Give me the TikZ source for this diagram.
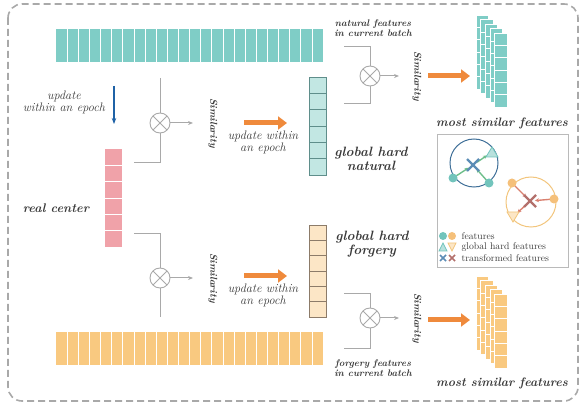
\documentclass[tikz,border=0pt]{standalone}
\usepackage{tikz}
\usetikzlibrary{calc}
\usetikzlibrary{positioning}
\usetikzlibrary{arrows.meta}

\definecolor{tealbar}{HTML}{7FCDC6}
\definecolor{tealcol}{HTML}{C2E7E3}
\definecolor{tealedge}{HTML}{5F8E8B}
\definecolor{orangebar}{HTML}{F9C980}
\definecolor{orangecol}{HTML}{FCE6C6}
\definecolor{orangeedge}{HTML}{8C7B69}
\definecolor{pinkcol}{HTML}{F0A2A9}
\definecolor{bigor}{HTML}{EF8A3C}
\definecolor{epochblue}{HTML}{1F62A6}
\definecolor{linegray}{HTML}{A9A9A9}
\definecolor{ink}{HTML}{3A3A3A}
\definecolor{ringblue}{HTML}{3F6F98}
\definecolor{dotteal}{HTML}{72C4BC}
\definecolor{xblue}{HTML}{5C8DB6}
\definecolor{arrgreen}{HTML}{6DBE8A}
\definecolor{ringor}{HTML}{F2C57C}
\definecolor{dotor}{HTML}{F5C07A}
\definecolor{xred}{HTML}{B3706C}
\definecolor{arrred}{HTML}{D98070}

\begin{document}
\begin{tikzpicture}[x=1pt, y=-1pt, text=ink,
    colbox/.style={rectangle, inner sep=0, outer sep=0},
    link/.style={draw=linegray, line width=1pt},
    simarrow/.style={draw=linegray, line width=1pt, -{Stealth[length=5pt,width=4pt]}},
    bigarrow/.style={draw=bigor, line width=5pt, -{Triangle[length=9pt,width=13pt]}},
    otimes/.style={circle, draw=linegray, line width=0.9pt, minimum size=20pt, inner sep=0,
        path picture={\draw[linegray, line width=0.9pt]
            (path picture bounding box.north west) -- (path picture bounding box.south east)
            (path picture bounding box.north east) -- (path picture bounding box.south west);}},
    sim/.style={rotate=-90, font=\fontsize{10}{12}\selectfont\bfseries\itshape},
    note/.style={align=center, font=\fontsize{12.3}{10.5}\selectfont\itshape},
    small/.style={align=center, font=\fontsize{9.6}{10}\selectfont\bfseries\itshape},
    head/.style={align=center, font=\fontsize{13.5}{14}\selectfont\bfseries\itshape},
    legtext/.style={anchor=west, font=\fontsize{9.7}{10}\selectfont}]
\useasboundingbox (0,0) rectangle (582,406);

% frame
\draw[draw=linegray, line width=1.6pt, dash pattern=on 7pt off 4pt, rounded corners=14pt]
    (8,4) rectangle (578,401);

% feature bars of the current batch
\node[colbox, fill=tealbar, minimum width=267pt, minimum height=33pt] (natbar) at (189.5,45.5) {};
\node[colbox, fill=orangebar, minimum width=267pt, minimum height=33pt] (forbar) at (189.5,348.5) {};
\foreach \i in {1,...,23}
{
    \draw[white, line width=0.6pt] ($(natbar.north west)+(11.125*\i,0)$) -- ++(0,33);
    \draw[white, line width=0.6pt] ($(forbar.north west)+(11.125*\i,0)$) -- ++(0,33);
}

% real center
\node[colbox, fill=pinkcol, minimum width=17pt, minimum height=98pt] (realcol) at (113.5,198) {};
\foreach \i in {1,...,5}
    \draw[white, line width=0.6pt] ($(realcol.north west)+(0,16.33*\i)$) -- ++(17,0);
\node[head, font=\fontsize{12.5}{14}\selectfont\bfseries\itshape] (reallbl) at (56,208) {real center};

% global hard columns
\node[colbox, fill=tealcol, draw=tealedge, line width=0.8pt, minimum width=17pt, minimum height=98pt] (natcol) at (317.5,126) {};
\node[colbox, fill=orangecol, draw=orangeedge, line width=0.8pt, minimum width=17pt, minimum height=92pt] (forcol) at (317.5,271) {};
\foreach \i in {1,...,5}
{
    \draw[tealedge, line width=0.8pt] ($(natcol.north west)+(0,16.33*\i)$) -- ++(17,0);
    \draw[orangeedge, line width=0.8pt] ($(forcol.north west)+(0,15.33*\i)$) -- ++(17,0);
}
\node[head] (natlbl) at (371,159) {global hard\\natural};
\node[head] (forlbl) at (372,244) {global hard\\forgery};

% update of the real center
\node[note] (updlbl) at (64,102) {update\\within an epoch};
\coordinate (blueA) at (114,86);
\coordinate (blueB) at (114,124);
\draw[epochblue, line width=1.2pt, -{Stealth[length=6pt,width=4.5pt]}] (blueA) -- (blueB);

% left similarity blocks
\node[otimes] (mulA) at (160,123) {};
\node[otimes] (mulB) at (160,278) {};
\coordinate (topA) at (160,78);
\coordinate (botA) at (134,163);
\coordinate (topB) at (134,234);
\coordinate (botB) at (160,317);
\draw[link] (topA) -- (mulA);
\draw[link] (mulA) |- (botA);
\draw[link] (topB) -| (mulB);
\draw[link] (mulB) -- (botB);
\node[sim] (simA) at (213,123) {Similarity};
\node[sim] (simB) at (213,278) {Similarity};
\draw[simarrow] (mulA) -- (mulA -| 193,0);
\draw[simarrow] (mulB) -- (mulB -| 193,0);
\draw[bigarrow] (244,123) -- (287,123);
\draw[bigarrow] (244,276) -- (287,276);
\node[note] (updA) at (263,142) {update within\\an epoch};
\node[note] (updB) at (263,295) {update within\\an epoch};

% right similarity blocks
\node[small] (natcur) at (373,28) {natural features\\in current batch};
\node[small] (forcur) at (373,368) {forgery features\\in current batch};
\node[otimes] (mulC) at (370,76) {};
\node[otimes] (mulD) at (370,318) {};
\coordinate (topC) at (344,47);
\coordinate (botC) at (344,104);
\coordinate (topD) at (344,294);
\coordinate (botD) at (344,349);
\draw[link] (topC) -| (mulC);
\draw[link] (mulC) |- (botC);
\draw[link] (topD) -| (mulD);
\draw[link] (mulD) |- (botD);
\node[sim] (simC) at (417,76) {Similarity};
\node[sim] (simD) at (417,318) {Similarity};
\draw[simarrow] (mulC) -- (mulC -| 399,0);
\draw[simarrow] (mulD) -- (mulD -| 399,0);
\draw[bigarrow] (428,76) -- (470,76);
\draw[bigarrow] (428,320) -- (470,320);

% most similar features
\foreach \k in {0,...,4}
{
    \node[colbox, fill=tealbar, draw=white, line width=0.6pt, minimum width=12.5pt, minimum height=74pt, anchor=north west] (nats\k) at ({476+4.6*\k},{15+4.5*\k}) {};
    \node[colbox, fill=orangebar, draw=white, line width=0.6pt, minimum width=12.5pt, minimum height=74pt, anchor=north west] (fors\k) at ({476+4.6*\k},{276+4.5*\k}) {};
    \foreach \j in {1,...,5}
    {
        \draw[white, line width=0.6pt] ($(nats\k.north west)+(0,12.33*\j)$) -- ++(12.5,0);
        \draw[white, line width=0.6pt] ($(fors\k.north west)+(0,12.33*\j)$) -- ++(12.5,0);
    }
}
\node[head, font=\fontsize{12.3}{14}\selectfont\bfseries\itshape] (simlblA) at (502,123) {most similar features};
\node[head, font=\fontsize{12.3}{14}\selectfont\bfseries\itshape] (simlblB) at (502,383) {most similar features};

% legend
\draw[draw=linegray!80, line width=0.8pt] (437,134) rectangle (568,267);
\draw[ringblue, line width=1pt] (474,163) circle (24);
\draw[ringor, line width=1pt] (531,202) circle (25);
\coordinate (tx) at (473,165);
\coordinate (ox) at (530,201);
\foreach \p in {(453,178), (489,183)}
    \draw[arrgreen, line width=1.4pt, shorten <=4pt, shorten >=5pt, -{Stealth[length=4pt,width=4pt]}] \p -- (tx);
\draw[arrgreen, line width=1.4pt, shorten <=5pt, shorten >=6pt, -{Stealth[length=4pt,width=4pt]}] (tx) -- (492,152);
\foreach \p in {(512,183), (554,199)}
    \draw[arrred, line width=1.4pt, shorten <=4pt, shorten >=5pt, -{Stealth[length=4pt,width=4pt]}] \p -- (ox);
\draw[arrred, line width=1.4pt, shorten <=5pt, shorten >=6pt, -{Stealth[length=4pt,width=4pt]}] (ox) -- (513,217);
\fill[dotteal] (453,178) circle (4.5) (489,183) circle (4.5);
\fill[dotor] (512,183) circle (4.5) (554,199) circle (4.5);
\draw[dotteal, fill=dotteal!50, line width=0.8pt] (486,157) -- (498,157) -- (492,147) -- cycle;
\draw[ringor, fill=orangecol, line width=0.8pt] (507,212) -- (519,212) -- (513,222) -- cycle;
\draw[xblue, line width=2.4pt] (467,159) -- (479,171) (479,159) -- (467,171);
\draw[xred, line width=2.4pt] (524,195) -- (536,207) (536,195) -- (524,207);

% legend entries
\fill[dotteal] (443,236) circle (4);
\fill[dotor] (452,236) circle (4);
\draw[dotteal, fill=dotteal!50, line width=0.7pt] (439,251) -- (447,251) -- (443,243) -- cycle;
\draw[ringor, fill=orangecol, line width=0.7pt] (448,243) -- (456,243) -- (452,251) -- cycle;
\draw[xblue, line width=1.7pt] (440,255) -- (446,261) (446,255) -- (440,261);
\draw[xred, line width=1.7pt] (449,255) -- (455,261) (455,255) -- (449,261);
\node[legtext] (legA) at (458,236) {features};
\node[legtext] (legB) at (458,247) {global hard features};
\node[legtext] (legC) at (458,258) {transformed features};
\end{tikzpicture}
\end{document}
